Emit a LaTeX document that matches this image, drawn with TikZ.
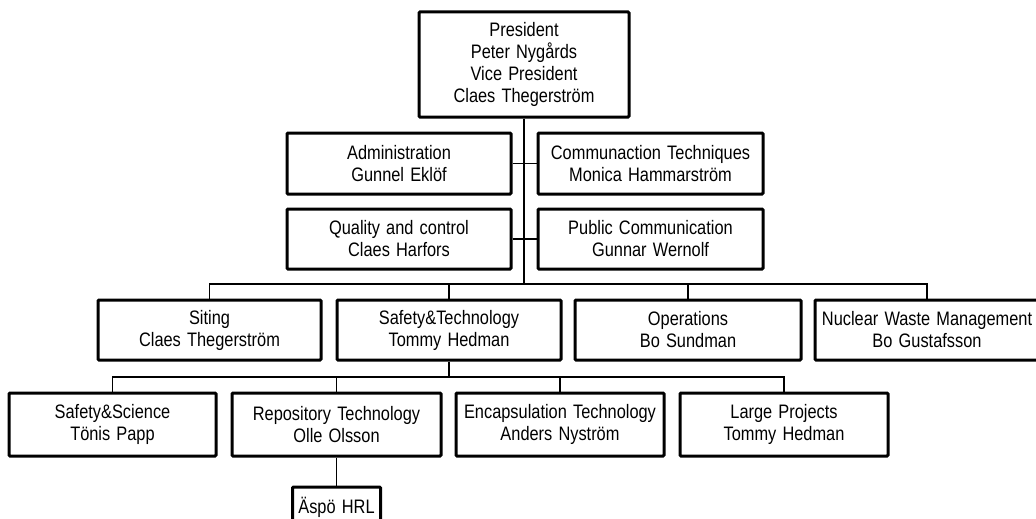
\documentclass[tikz,border=0pt]{standalone}
\usepackage{fontspec}
\setmainfont{Liberation Sans}[FakeStretch=0.84,WordSpace=1.35]
\begin{document}
\begin{tikzpicture}[x=1pt,y=-1pt,
  box/.style={draw,line width=3pt,rounded corners=1pt,align=center,inner sep=0pt,
    font=\fontsize{19.5}{22}\selectfont},
  conn/.style={draw,line width=1.1pt}]
\useasboundingbox (0,0) rectangle (1036,519);
% level 1
\node[box,minimum width=210pt,minimum height=105pt] (pres) at (524,64.5)
  {President\\Peter Nygårds\\Vice President\\Claes Thegerström};
% staff
\node[box,minimum width=224pt,minimum height=61pt] (admin) at (399,163.5) {Administration\\Gunnel Eklöf};
\node[box,minimum width=225pt,minimum height=61pt] (comm) at (650.5,163.5) {Communaction Techniques\\Monica Hammarström};
\node[box,minimum width=224pt,minimum height=60pt] (qual) at (399,239) {Quality and control\\Claes Harfors};
\node[box,minimum width=225pt,minimum height=60pt] (pub) at (650.5,239) {Public Communication\\Gunnar Wernolf};
% level 2
\node[box,minimum width=223pt,minimum height=60pt] (siting) at (209.5,330) {Siting\\Claes Thegerström};
\node[box,minimum width=224pt,minimum height=60pt] (saftech) at (449,330) {Safety\&Technology\\Tommy Hedman};
\node[box,minimum width=226pt,minimum height=60pt] (ops) at (688,330) {Operations\\Bo Sundman};
\node[box,minimum width=224pt,minimum height=60pt] (nwm) at (927,330) {Nuclear Waste Management\\Bo Gustafsson};
% level 3
\node[box,minimum width=207pt,minimum height=63pt] (sci) at (112.5,424.5) {Safety\&Science\\Tönis Papp};
\node[box,minimum width=209pt,minimum height=63pt] (repo) at (336.5,424.5) {Repository Technology\\Olle Olsson};
\node[box,minimum width=208pt,minimum height=63pt] (enc) at (560,424.5) {Encapsulation Technology\\Anders Nyström};
\node[box,minimum width=208pt,minimum height=63pt] (large) at (784,424.5) {Large Projects\\Tommy Hedman};
% level 4
\node[box,minimum width=88pt,minimum height=40pt] (aspo) at (336.5,507) {Äspö HRL};
% connectors
\coordinate (b1) at (524,284);
\coordinate (b2) at (449,377);
\draw[conn] (pres.south) -- (b1);
\draw[conn] (admin.east) -- (comm.west);
\draw[conn] (qual.east) -- (pub.west);
\draw[conn] (siting.north) |- (b1) -| (nwm.north);
\draw[conn] (b1) -| (saftech.north);
\draw[conn] (b1) -| (ops.north);
\draw[conn] (saftech.south) -- (b2);
\draw[conn] (sci.north) |- (b2) -| (large.north);
\draw[conn] (b2) -| (repo.north);
\draw[conn] (b2) -| (enc.north);
\draw[conn] (repo.south) -- (aspo.north);
\end{tikzpicture}
\end{document}
